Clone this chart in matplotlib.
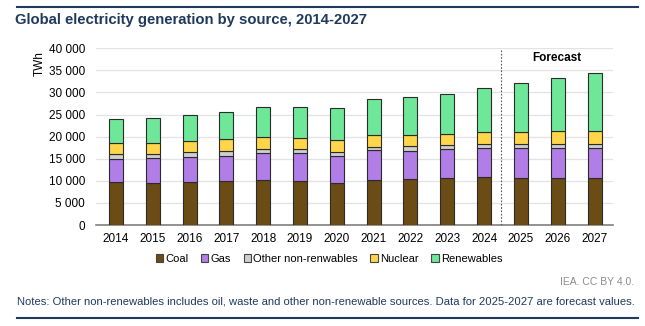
import matplotlib
matplotlib.use("Agg")
import matplotlib.pyplot as plt
import numpy as np
from matplotlib.patches import Patch

plt.rcParams['font.family'] = ['Liberation Sans', 'DejaVu Sans']

years = ["2014", "2015", "2016", "2017", "2018", "2019", "2020",
         "2021", "2022", "2023", "2024", "2025", "2026", "2027"]
coal = [9800, 9400, 9650, 9950, 10200, 9950, 9450, 10100, 10350, 10550, 10800, 10550, 10700, 10700]
gas = [5100, 5700, 5750, 5750, 6000, 6250, 6250, 6800, 6500, 6600, 6550, 6800, 6650, 6650]
other = [1250, 1050, 1100, 1100, 1100, 900, 750, 700, 950, 850, 900, 900, 900, 900]
nuclear = [2450, 2500, 2500, 2600, 2550, 2700, 2800, 2850, 2650, 2700, 2750, 2750, 2950, 2950]
renewables = [5400, 5650, 5800, 6200, 6750, 7000, 7300, 8000, 8550, 9000, 9950, 11050, 12150, 13200]

series = [("Coal", coal, "#6b4c14"),
          ("Gas", gas, "#b07ee6"),
          ("Other non-renwables", other, "#cfcfcf"),
          ("Nuclear", nuclear, "#ffd54a"),
          ("Renewables", renewables, "#6ee898")]

navy = "#1f3a5c"

fig = plt.figure(figsize=(6.45, 3.26), dpi=100)
ax = fig.add_axes([96/645, 1-225/326, (613-96)/645, (225-48.3)/326])

x = np.arange(len(years))
bottom = np.zeros(len(years))
for name, vals, col in series:
    v = np.array(vals, dtype=float)
    ax.bar(x, v, width=0.38, bottom=bottom, color=col, edgecolor="#2b2b2b",
           linewidth=0.8, zorder=3)
    bottom += v

ax.set_xlim(-0.54, 13.5)
ax.set_ylim(0, 40000)
ax.set_yticks(np.arange(0, 40001, 5000))
ax.set_yticklabels([f"{int(t):,}".replace(",", " ") for t in np.arange(0, 40001, 5000)])
ax.set_xticks(x)
ax.set_xticklabels(years)
ax.tick_params(axis="both", length=0, labelsize=8.5, colors="#000000")
ax.tick_params(axis="x", pad=6)
ax.tick_params(axis="y", pad=8)
ax.grid(axis="y", color="#e3e3e3", linewidth=0.9, zorder=0)
for s in ["top", "right", "left"]:
    ax.spines[s].set_visible(False)
ax.spines["bottom"].set_color("#7f7f7f")
ax.spines["bottom"].set_linewidth(1.2)

ax.axvline(10.47, color="#555555", linestyle=(0, (1.5, 1.5)), linewidth=0.8, ymax=0.995, zorder=4)
ax.text(11.98, 37800, "Forecast", fontsize=8.5, fontweight="bold", ha="center", va="center")

fig.text(40/645, 1-64/326, "TWh", fontsize=8.5, rotation=90, ha="center", va="center")

handles = [Patch(facecolor=c, edgecolor="#444444", linewidth=0.8, label=n) for n, _, c in series]
fig.legend(handles=handles, loc="center", bbox_to_anchor=(329/645, 1-259/326), ncol=5,
           frameon=False, fontsize=8, handlelength=0.65, handleheight=0.65,
           handletextpad=0.2, columnspacing=1.15, borderpad=0)

fig.text(15/645, 1-20/326, "Global electricity generation by source, 2014-2027",
         fontsize=10.7, fontweight="bold", color=navy, va="center", ha="left")
fig.text(634/645, 1-282/326, "IEA. CC BY 4.0.", fontsize=7.5, color="#8c8c8c", ha="right", va="center")
fig.text(17/645, 1-301/326, "Notes: Other non-renewables includes oil, waste and other non-renewable sources. Data for 2025-2027 are forecast values.",
         fontsize=8.1, color=navy, ha="left", va="center")

fig.add_artist(plt.Line2D([17/645, 638/645], [1-6.5/326, 1-6.5/326], color=navy, linewidth=1.5))
fig.add_artist(plt.Line2D([17/645, 638/645], [1-318/326, 1-318/326], color=navy, linewidth=1.5))

fig.savefig("out.png", dpi=100)
